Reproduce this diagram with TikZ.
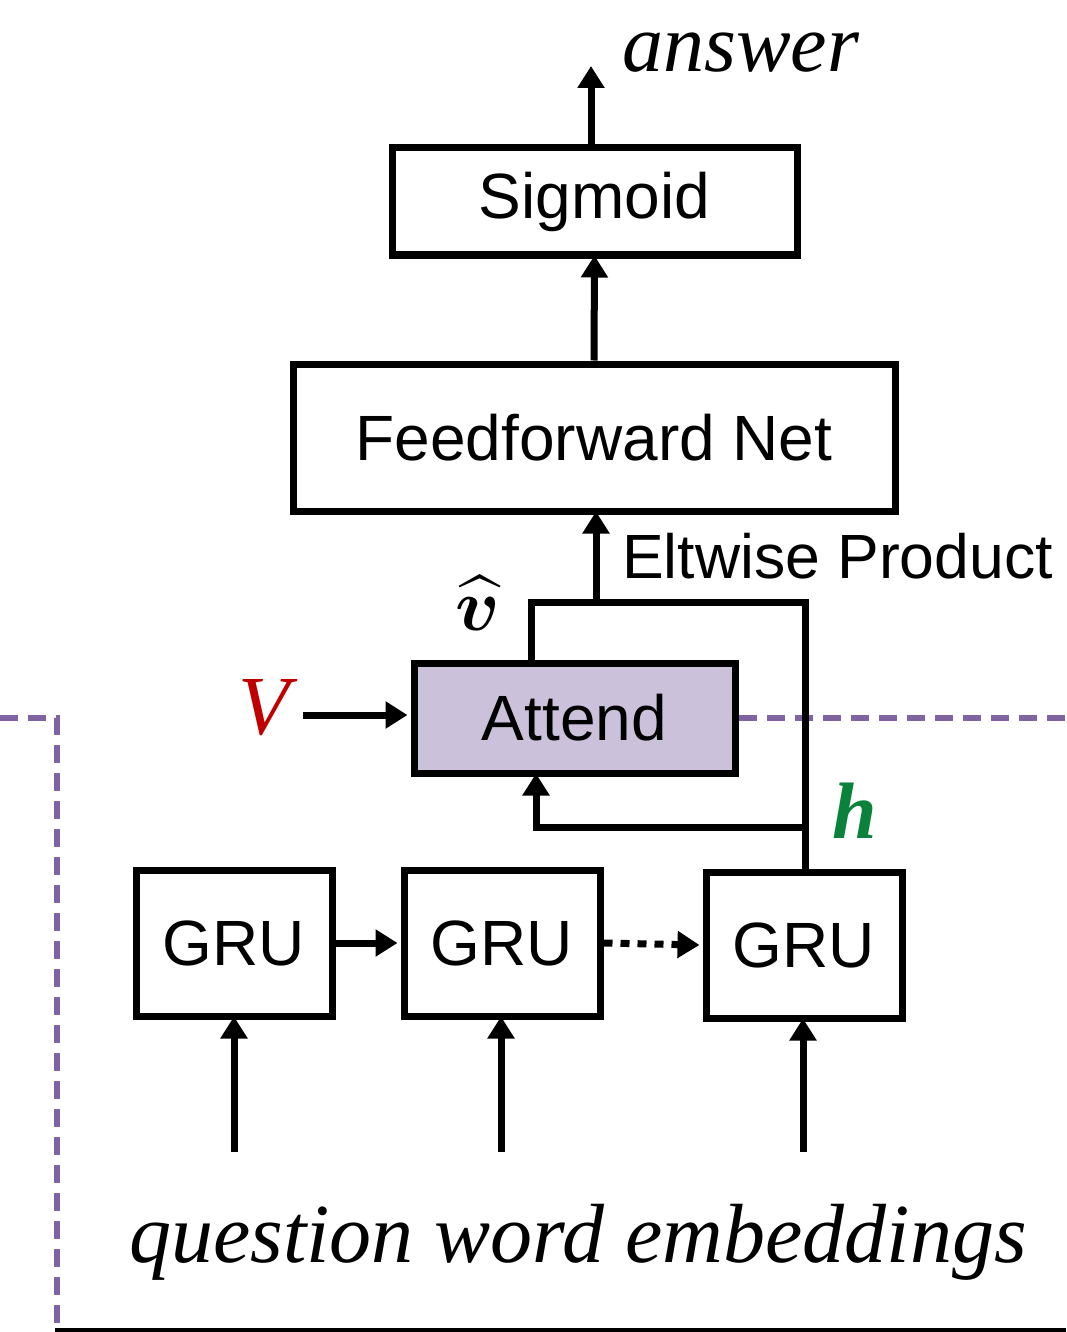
\documentclass[tikz,border=0pt]{standalone}
\usepackage{amsmath}
\usepackage{fontspec}
\setmainfont{Liberation Serif}
\setsansfont{Liberation Sans}
\usetikzlibrary{arrows.meta}
\definecolor{attfill}{RGB}{204,193,218}
\definecolor{dashpurple}{RGB}{128,100,162}
\definecolor{vred}{RGB}{192,0,0}
\definecolor{hgreen}{RGB}{10,130,60}
\newcommand{\vhatlabel}{\ensuremath{\boldsymbol{\widehat{v}}}}
\tikzset{
  box/.style={draw, line width=7pt, line join=miter, rectangle, inner sep=0pt,
    font=\sffamily\fontsize{64}{68}\selectfont},
  ln/.style={line width=7pt, line join=miter},
  arr/.style={line width=7pt, -{Triangle[length=22pt,width=26pt]}},
  pdash/.style={draw=dashpurple, line width=6pt, dash pattern=on 18pt off 10pt},
  lbl/.style={inner sep=0pt}
}
\begin{document}
\begin{tikzpicture}[x=1pt,y=-1pt]
\useasboundingbox (0,0) rectangle (1066,1332);

% blocks
\node[box, minimum width=405pt, minimum height=107pt] (sig) at (594.5,201.5) {Sigmoid};
\node[box, minimum width=602pt, minimum height=147pt] (ff) at (594,437.5) {Feedforward Net};
\node[box, fill=attfill, minimum width=321pt, minimum height=110pt] (att) at (574.5,718) {Attend};
\node[box, minimum width=196pt, minimum height=146pt] (g1) at (234,943) {GRU};
\node[box, minimum width=196pt, minimum height=146pt] (g2) at (502,943) {GRU};
\node[box, minimum width=196pt, minimum height=146pt] (g3) at (804,945) {GRU};

% labels
\node[lbl, anchor=base west, font=\itshape\fontsize{82}{84}\selectfont] (ans) at (622,72) {answer};
\node[lbl, anchor=base west, font=\sffamily\fontsize{62.5}{64}\selectfont] (elt) at (622,578) {Eltwise Product};
\node[lbl, scale=7.4] (vhat) at (478,603) {\vhatlabel};
\node[lbl, anchor=base, text=vred, font=\itshape\fontsize{84}{86}\selectfont] (V) at (264,734) {V};
\node[lbl, anchor=base, text=hgreen, font=\bfseries\itshape\fontsize{80}{82}\selectfont] (h) at (855,838) {h};
\node[lbl, anchor=base, font=\itshape\fontsize{84}{86}\selectfont] (q) at (578,1262) {question word embeddings};

% junction points
\coordinate (ansTip) at (591,66);
\coordinate (jn) at (596,602);
\coordinate (vl) at (531,602);
\coordinate (vr) at (805,602);
\coordinate (hj) at (805,827);
\coordinate (hl) at (536,827);
\coordinate (vs) at (303,715);
\coordinate (in1) at (234,1152);
\coordinate (in2) at (501,1152);
\coordinate (in3) at (803,1152);
\coordinate (dr) at (1066,718);
\coordinate (dl) at (0,718);
\coordinate (dc) at (57,718);
\coordinate (db) at (57,1332);
\coordinate (bl) at (55,1330);
\coordinate (br) at (1066,1330);

% purple dashed boundary
\draw[pdash] (att.east) -- (dr);
\draw[pdash] (dl) -- (dc) -- (db);

% connectors
\draw[arr] (sig.north -| ansTip) -- (ansTip);
\draw[arr] (ff.north) -- ([yshift=3pt]sig.south);
\draw[arr] (jn) -- ([yshift=3pt]ff.south -| jn);
\draw[ln] (att.north -| vl) -- (vl) -- (vr) -- (g3.north -| vr);
\draw[arr] (hj) -- (hl) -- ([yshift=3pt]att.south -| hl);
\draw[arr] (vs) -- ([xshift=-3pt]vs -| att.west);
\draw[arr] (g1.east) -- ([xshift=-3pt]g2.west);
\draw[line width=7pt, dash pattern=on 9pt off 8pt, -{Triangle[length=22pt,width=26pt]}] (g2.east) -- ([xshift=-3pt]g3.west);
\draw[arr] (in1) -- ([yshift=3pt]g1.south);
\draw[arr] (in2) -- ([yshift=3pt]g2.south -| in2);
\draw[arr] (in3) -- ([yshift=3pt]g3.south -| in3);

% base line
\draw[line width=4pt] (bl) -- (br);
\end{tikzpicture}
\end{document}
